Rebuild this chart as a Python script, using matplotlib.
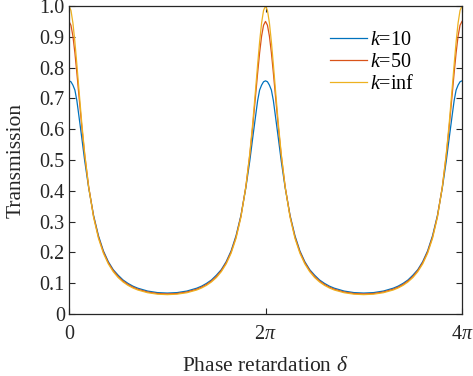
import numpy as np
import matplotlib
matplotlib.use('Agg')
import matplotlib.pyplot as plt

plt.rcParams['font.family'] = 'Liberation Serif'
plt.rcParams['mathtext.fontset'] = 'custom'
plt.rcParams['mathtext.rm'] = 'Liberation Serif'
plt.rcParams['mathtext.it'] = 'Liberation Serif:italic'

# phase retardation, in units of pi
delta = [0, .02, .04, .06, .08, .1, .13, .16, .2, .25, .3, .35, .4, .45, .5, .55, .6, .65, .7, .8, .9, 1.0,
         1.1, 1.2, 1.3, 1.35, 1.4, 1.45, 1.5, 1.55, 1.6, 1.65, 1.7, 1.75, 1.8, 1.84, 1.87, 1.9, 1.92, 1.94, 1.96, 1.98, 2.0,
         2.02, 2.04, 2.06, 2.08, 2.1, 2.13, 2.16, 2.2, 2.25, 2.3, 2.35, 2.4, 2.45, 2.5, 2.55, 2.6, 2.65, 2.7, 2.8, 2.9, 3.0,
         3.1, 3.2, 3.3, 3.35, 3.4, 3.45, 3.5, 3.55, 3.6, 3.65, 3.7, 3.75, 3.8, 3.84, 3.87, 3.9, 3.92, 3.94, 3.96, 3.98, 4.0]

t_k10 = [.757, .754, .743, .727, .693, .645, .572, .497, .410, .320, .254, .205, .170, .144, .126, .1105, .0995, .0905, .0838, .0745, .0695, .068,
         .0695, .0745, .0838, .0905, .0995, .1105, .126, .144, .170, .205, .254, .320, .410, .497, .572, .645, .693, .727, .743, .754, .757,
         .754, .743, .727, .693, .645, .572, .497, .410, .320, .254, .205, .170, .144, .126, .1105, .0995, .0905, .0838, .0745, .0695, .068,
         .0695, .0745, .0838, .0905, .0995, .1105, .126, .144, .170, .205, .254, .320, .410, .497, .572, .645, .693, .727, .743, .754, .757]

t_k50 = [.950, .9374, .9017, .8479, .7828, .7128, .6093, .5160, .4133, .3175, .2498, .2016, .1667, .1411, .1218, .1072, .0959, .0873, .0805, .0714, .0666, .0651,
         .0666, .0714, .0805, .0873, .0959, .1072, .1218, .1411, .1667, .2016, .2498, .3175, .4133, .5160, .6093, .7128, .7828, .8479, .9017, .9374, .950,
         .9374, .9017, .8479, .7828, .7128, .6093, .5160, .4133, .3175, .2498, .2016, .1667, .1411, .1218, .1072, .0959, .0873, .0805, .0714, .0666, .0651,
         .0666, .0714, .0805, .0873, .0959, .1072, .1218, .1411, .1667, .2016, .2498, .3175, .4133, .5160, .6093, .7128, .7828, .8479, .9017, .9374, .950]

t_inf = [1.0, .9855, .9445, .8834, .8103, .7328, .6201, .5204, .4127, .3143, .2456, .1973, .1627, .1373, .1183, .1040, .0930, .0845, .0779, .0691, .0644, .0629,
         .0644, .0691, .0779, .0845, .0930, .1040, .1183, .1373, .1627, .1973, .2456, .3143, .4127, .5204, .6201, .7328, .8103, .8834, .9445, .9855, 1.0,
         .9855, .9445, .8834, .8103, .7328, .6201, .5204, .4127, .3143, .2456, .1973, .1627, .1373, .1183, .1040, .0930, .0845, .0779, .0691, .0644, .0629,
         .0644, .0691, .0779, .0845, .0930, .1040, .1183, .1373, .1627, .1973, .2456, .3143, .4127, .5204, .6201, .7328, .8103, .8834, .9445, .9855, 1.0]

labels = ['$k$=10', '$k$=50', '$k$=inf']
colors = ['#0072BD', '#D95319', '#EDB120']

fig = plt.figure(figsize=(4.73, 3.76), dpi=100)
ax = fig.add_axes([69/473, 1-314/376, 393/473, 308/376])

x = np.array(delta) * np.pi
for y, lab, c in zip([t_k10, t_k50, t_inf], labels, colors):
    ax.plot(x, y, color=c, lw=0.9, label=lab)

ax.set_xlim(0, 4*np.pi)
ax.set_ylim(0, 1)
ax.set_xticks([0, 2*np.pi, 4*np.pi])
ax.set_xticklabels(['0', '2$\\pi$', '4$\\pi$'])
ax.set_yticks(np.arange(0, 1.01, 0.1))
ax.set_yticklabels(['0', '0.1', '0.2', '0.3', '0.4', '0.5', '0.6', '0.7', '0.8', '0.9', '1.0'])
ax.tick_params(direction='in', length=4, width=0.8, labelsize=14.5, colors='#262626',
               top=True, right=True, pad=3)
ax.tick_params(axis='x', pad=8)
for s in ax.spines.values():
    s.set_linewidth(0.9)
    s.set_color('#262626')

ax.set_xlabel('Phase retardation $\\delta$', fontsize=15.5, color='#262626', labelpad=9)
ax.set_ylabel('Transmission', fontsize=15.5, color='#262626', labelpad=10)

ax.legend(loc='upper left', bbox_to_anchor=(0.664, 0.92), frameon=False, fontsize=14.5,
          borderaxespad=0, borderpad=0, handlelength=1.85, handletextpad=0.15, labelspacing=0.15)

fig.savefig('out.png', dpi=100)
